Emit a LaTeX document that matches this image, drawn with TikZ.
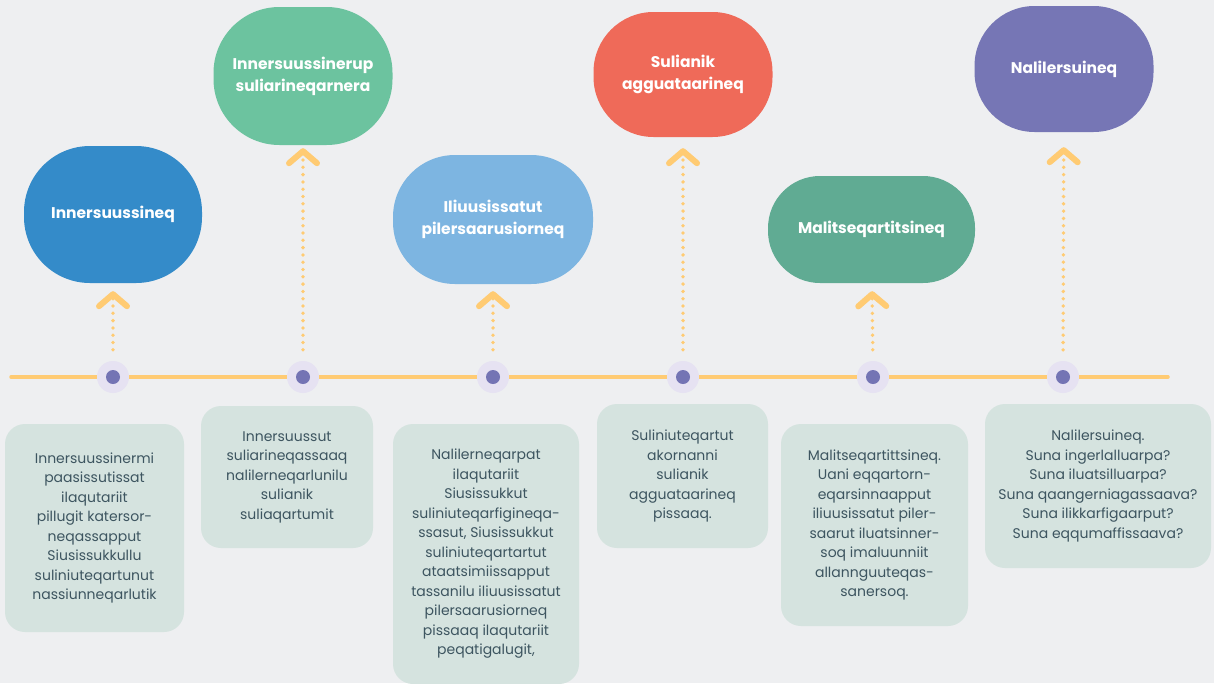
\documentclass[tikz,border=0pt]{standalone}
\usepackage{fontspec}
\setmainfont{Poppins}
\usetikzlibrary{arrows.meta}

\definecolor{bg}{HTML}{EEEFF1}
\definecolor{amber}{HTML}{FFCB73}
\definecolor{halo}{HTML}{E6E2F2}
\definecolor{dotc}{HTML}{7474B4}
\definecolor{notebg}{HTML}{D5E3DF}
\definecolor{notetext}{HTML}{3D5560}
\definecolor{cblue}{HTML}{348BC9}
\definecolor{cgreen}{HTML}{6CC39F}
\definecolor{clight}{HTML}{7DB5E1}
\definecolor{cred}{HTML}{EF6A59}
\definecolor{cteal}{HTML}{60AB93}
\definecolor{cpurple}{HTML}{7676B5}

\def\Y{377}

\begin{document}
\begin{tikzpicture}[x=1pt,y=-1pt]
    \tikzset{
      bubble/.style={rounded corners=#1,text=white,align=center,inner sep=0pt,
        font=\bfseries\fontsize{15.5}{22}\selectfont},
      bubble/.default=52pt,
      note/.style={fill=notebg,rounded corners=20pt,text=notetext,align=center,
        inner sep=0pt,font=\fontsize{14}{19.5}\selectfont},
      halo/.style={circle,fill=halo,minimum size=32pt,inner sep=0pt},
      stem/.style={draw=amber,line width=3.8pt,line cap=round,
        dash pattern=on 0pt off 7.3pt,shorten <=11pt,shorten >=8pt,
        -{Straight Barb[length=12pt,width=28pt,line width=6pt,round]}}
    }
    \fill[bg] (0,0) rectangle (1214,683);
    \useasboundingbox (0,0) rectangle (1214,683);

    \coordinate (l) at (11,\Y);
    \coordinate (r) at (1168,\Y);
    \draw[amber,line width=3.5pt,line cap=round] (l) -- (r);

    \foreach \x [count=\i] in {113,303,493,683,873,1063} {
      \node[halo] (d\i) at (\x,\Y) {};
      \fill[dotc] (d\i) circle (7pt);
    }

    \node[bubble=66pt,fill=cblue,minimum width=178pt,minimum height=137pt] (b1) at (113,214.5) {Innersuussineq};
    \node[bubble=66pt,fill=cgreen,minimum width=179pt,minimum height=138pt] (b2) at (303,76) {Innersuussinerup\\suliarineqarnera};
    \node[bubble=62pt,fill=clight,minimum width=200pt,minimum height=129pt] (b3) at (493,219.5) {Iliuusissatut\\pilersaarusiorneq};
    \node[bubble=60pt,fill=cred,minimum width=179pt,minimum height=125pt] (b4) at (683,74.5) {Sulianik\\agguataarineq};
    \node[bubble=52pt,fill=cteal,minimum width=207pt,minimum height=107pt] (b5) at (871.5,229.5) {Malitseqartitsineq};
    \node[bubble=60pt,fill=cpurple,minimum width=179pt,minimum height=126pt] (b6) at (1064,69) {Nalilersuineq};

    \draw[stem] (d1) -- (b1);
    \draw[stem,shorten >=3pt] (d2) -- (b2);
    \draw[stem,shorten >=7pt] (d3) -- (b3);
    \draw[stem,shorten >=11pt] (d4) -- (b4);
    \draw[stem] (d5) -- (b5);
    \draw[stem,shorten >=15pt] (d6) -- (b6);

    \node[note,minimum width=179pt,minimum height=208pt] (n1) at (94.5,528) {Innersuussinermi\\paasissutissat\\ilaqutariit\\pillugit katersor-\\neqassapput\\Siusissukkullu\\suliniuteqartunut\\nassiunneqarlutik};
    \node[note,minimum width=172pt,minimum height=142pt] (n2) at (287,477) {Innersuussut\\suliarineqassaaq\\nalilerneqarlunilu\\sulianik\\suliaqartumit};
    \node[note,minimum width=186pt,minimum height=260pt] (n3) at (486,554) {Nalilerneqarpat\\ilaqutariit\\Siusissukkut\\suliniuteqarfigineqa-\\ssasut, Siusissukkut\\suliniuteqartartut\\ataatsimiissapput\\tassanilu iliuusissatut\\pilersaarusiorneq\\pissaaq ilaqutariit\\peqatigalugit,};
    \node[note,minimum width=171pt,minimum height=144pt] (n4) at (682.5,476) {Suliniuteqartut\\akornanni\\sulianik\\agguataarineq\\pissaaq.};
    \node[note,minimum width=187pt,minimum height=202pt] (n5) at (874.5,525) {Malitseqartittsineq.\\Uani eqqartorn-\\eqarsinnaapput\\iliuusissatut piler-\\saarut iluatsinner-\\soq imaluunniit\\allannguuteqas-\\sanersoq.};
    \node[note,minimum width=226pt,minimum height=164pt] (n6) at (1098,486) {Nalilersuineq.\\Suna ingerlalluarpa?\\Suna iluatsilluarpa?\\Suna qaangerniagassaava?\\Suna ilikkarfigaarput?\\Suna eqqumaffissaava?};
  \end{tikzpicture}
\end{document}
